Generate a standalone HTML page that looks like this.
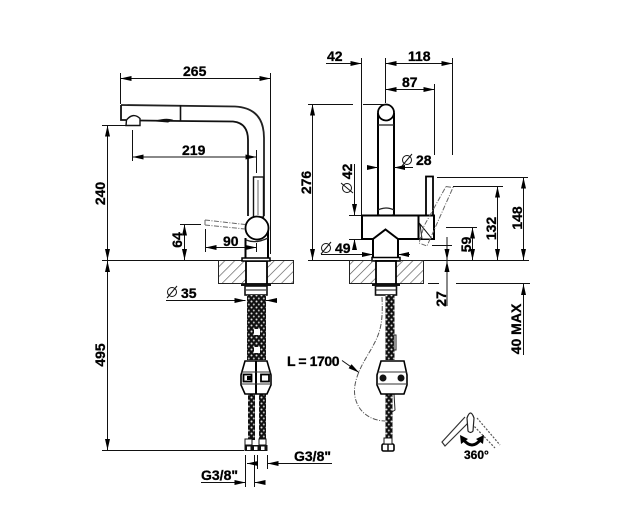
<!DOCTYPE html>
<html><head><meta charset="utf-8"><style>
html,body{margin:0;padding:0;background:#fff;width:637px;height:515px;overflow:hidden}
svg{display:block}
text{font-family:"Liberation Sans",sans-serif;font-weight:bold;font-size:14px;fill:#000;stroke:#000;stroke-width:.3}
.d{stroke:#111;stroke-width:1;fill:none}
.o{stroke:#000;stroke-width:2;fill:none}
.t{stroke:#222;stroke-width:1.3;fill:none}
.g{stroke:#555;stroke-width:1;fill:none;stroke-dasharray:5 1.5 1 1.5}
</style></head><body>
<svg width="637" height="515" viewBox="0 0 637 515" xmlns="http://www.w3.org/2000/svg">
<defs>
<marker id="a" viewBox="0 0 11 5" refX="11" refY="2.5" markerWidth="11" markerHeight="5" markerUnits="userSpaceOnUse" orient="auto-start-reverse"><path d="M0 0L11 2.5L0 5z" fill="#000"/></marker>
<pattern id="h" width="7" height="7" patternUnits="userSpaceOnUse" patternTransform="rotate(45)"><line x1="0" y1="0" x2="0" y2="7" stroke="#555" stroke-width="1.3"/></pattern>
<pattern id="b" width="5" height="6" patternUnits="userSpaceOnUse"><rect width="5" height="6" fill="#111"/><circle cx="1.5" cy="1.5" r="1" fill="#ddd"/><circle cx="3.8" cy="4.5" r="1" fill="#bbb"/></pattern>
</defs>

<!-- LEFT VIEW -->
<line class="d" x1="120.500" y1="73" x2="120.500" y2="104"/>
<line class="d" x1="270.500" y1="73" x2="270.500" y2="254"/>
<line class="d" x1="120.500" y1="78.500" x2="270.500" y2="78.500" marker-start="url(#a)" marker-end="url(#a)"/>
<text x="183" y="76">265</text>
<path d="M121 105L235 106.500Q264 108 264 138L264 216" fill="none" stroke="#222" stroke-width="1.800"/>
<path d="M121 105L121 120L126 120M140 120.500L180 121L233 121.500Q248 123 248 140L248 216" fill="none" stroke="#111" stroke-width="1.800"/>
<line x1="180.500" y1="105" x2="180.500" y2="121" stroke="#111" stroke-width="1.600"/>
<path d="M156 121Q166 118 172 120L168 122z" fill="#111" stroke="#111"/>
<path d="M126 125.500L126.500 120Q133 112 140 118.500L140 125.500z" fill="#fff" stroke="#111" stroke-width="1.400"/>
<line class="d" x1="102" y1="125.500" x2="126" y2="125.500"/>
<line class="d" x1="107.500" y1="125.500" x2="107.500" y2="260" marker-start="url(#a)" marker-end="url(#a)"/>
<text transform="translate(105,193.500) rotate(-90)" text-anchor="middle">240</text>
<line class="d" x1="132.500" y1="130" x2="132.500" y2="161"/>
<line class="d" x1="256.500" y1="150" x2="256.500" y2="173"/>
<line class="d" x1="132.500" y1="157" x2="256.500" y2="157" marker-start="url(#a)" marker-end="url(#a)"/>
<text x="182" y="155">219</text>
<rect x="253.500" y="177" width="10" height="40" fill="#fff" stroke="#111" stroke-width="1.400"/>
<line x1="258" y1="180" x2="258" y2="215" stroke="#666" stroke-width="1"/>
<path d="M245.500 259V238M268 259V226" class="o"/>
<path d="M246 240Q256 244 268 238" class="t"/>
<circle cx="257" cy="228" r="11.500" fill="#fff" stroke="#000" stroke-width="1.800"/>
<path d="M205 220L245 224.500M205 225L245 229M205 220V225" fill="none" stroke="#666" stroke-width="1" stroke-dasharray="5 1.500 1 1.500"/>
<line class="d" x1="180" y1="224.500" x2="201" y2="224.500"/>
<line class="d" x1="184.500" y1="224.500" x2="184.500" y2="260" marker-start="url(#a)" marker-end="url(#a)"/>
<text transform="translate(182,240) rotate(-90)" text-anchor="middle">64</text>
<line class="d" x1="205.500" y1="229" x2="205.500" y2="252"/>
<line class="d" x1="256.500" y1="243" x2="256.500" y2="252"/>
<line class="d" x1="205.500" y1="247.500" x2="256.500" y2="247.500" marker-start="url(#a)" marker-end="url(#a)"/>
<text x="223" y="246">90</text>
<line class="d" x1="102" y1="260.500" x2="245" y2="260.500"/>
<rect x="218.500" y="260.500" width="75" height="23" fill="url(#h)" stroke="#222" stroke-width="1"/>
<rect x="246" y="261" width="21" height="23" fill="#fff" stroke="#000" stroke-width="1.800"/>
<rect x="242" y="258" width="28" height="3" fill="#fff" stroke="#000" stroke-width="1.500"/>
<rect x="241" y="284" width="30" height="2" fill="#111"/>
<rect x="245" y="286" width="22" height="9" fill="#fff" stroke="#111" stroke-width="1.600"/>
<line x1="246" y1="290" x2="266" y2="290" stroke="#111"/>
<rect x="247" y="295" width="19" height="65" fill="url(#b)"/>
<rect x="254" y="329" width="6" height="6" fill="#fff"/>
<rect x="254" y="347" width="6" height="6" fill="#fff"/>
<rect x="248" y="394" width="7" height="46" fill="url(#b)"/>
<rect x="259" y="394" width="7" height="46" fill="url(#b)"/>
<rect x="245" y="439" width="7" height="6" fill="#fff" stroke="#111"/>
<rect x="259" y="439" width="7" height="6" fill="#fff" stroke="#111"/>
<rect x="244.500" y="445" width="23" height="6" fill="#111"/>
<rect x="247" y="446.500" width="3.500" height="3.500" fill="#fff"/>
<rect x="254" y="446.500" width="3.500" height="3.500" fill="#fff"/>
<rect x="261" y="446.500" width="3.500" height="3.500" fill="#fff"/>
<path d="M245 361L267 361L271 375L271 385L267 394L245 394L241 385L241 375z" fill="#fff" stroke="#000" stroke-width="1.600"/>
<line x1="256" y1="361" x2="256" y2="394" stroke="#000" stroke-width="2"/>
<line x1="241" y1="372" x2="271" y2="372" stroke="#333"/>
<line x1="241" y1="384" x2="271" y2="384" stroke="#333"/>
<rect x="243.500" y="374.500" width="8" height="7" fill="#fff" stroke="#000" stroke-width="1.800"/>
<rect x="261" y="374.500" width="8" height="7" fill="#fff" stroke="#000" stroke-width="1.800"/>
<rect x="247" y="376" width="4" height="4" fill="#000"/>
<line class="d" x1="166" y1="300.500" x2="245.500" y2="300.500" marker-end="url(#a)"/>
<line class="d" x1="276" y1="300.500" x2="266" y2="300.500" marker-end="url(#a)"/>
<circle cx="172" cy="292" r="4.500" class="d"/><line x1="167" y1="298" x2="177" y2="286" class="d"/>
<text x="181" y="298">35</text>
<line class="d" x1="107.500" y1="261" x2="107.500" y2="450" marker-start="url(#a)" marker-end="url(#a)"/>
<text transform="translate(105,355) rotate(-90)" text-anchor="middle">495</text>
<line class="d" x1="102" y1="450.500" x2="244" y2="450.500"/>
<line class="d" x1="245.500" y1="455" x2="245.500" y2="487"/>
<line class="d" x1="254.500" y1="455" x2="254.500" y2="487"/>
<line class="d" x1="257.500" y1="455" x2="257.500" y2="469"/>
<line class="d" x1="267.500" y1="455" x2="267.500" y2="469"/>
<line class="d" x1="247" y1="463.500" x2="257" y2="463.500" marker-start="url(#a)"/>
<line class="d" x1="267.500" y1="463.500" x2="332" y2="463.500" marker-start="url(#a)"/>
<text x="294" y="461">G3/8"</text>
<line class="d" x1="201" y1="482.500" x2="245.500" y2="482.500" marker-end="url(#a)"/>
<line class="d" x1="254.500" y1="482.500" x2="265" y2="482.500" marker-start="url(#a)"/>
<text x="201" y="480">G3/8"</text>

<!-- RIGHT VIEW -->
<line class="d" x1="361.500" y1="58" x2="361.500" y2="215"/>
<line class="d" x1="385.500" y1="58" x2="385.500" y2="103"/>
<line class="d" x1="452.500" y1="58" x2="452.500" y2="155"/>
<line class="d" x1="326" y1="63.500" x2="361.500" y2="63.500" marker-end="url(#a)"/>
<line class="d" x1="385.500" y1="63.500" x2="452.500" y2="63.500" marker-start="url(#a)" marker-end="url(#a)"/>
<text x="327" y="61">42</text>
<text x="408" y="61">118</text>
<line class="d" x1="434.500" y1="84" x2="434.500" y2="155"/>
<line class="d" x1="385.500" y1="89.500" x2="434.500" y2="89.500" marker-start="url(#a)" marker-end="url(#a)"/>
<text x="402" y="87">87</text>
<path d="M378 113V216M394 113V216" class="o"/>
<circle cx="386" cy="112.500" r="8" fill="#fff" stroke="#000" stroke-width="1.800"/>
<path d="M378 125H394" stroke="#222" stroke-width="1.300"/>
<path d="M378 210Q386 206 394 210M378 214Q386 222 394 214" class="t"/>
<line class="d" x1="308" y1="104.500" x2="353" y2="104.500"/>
<line class="d" x1="363" y1="104.500" x2="385" y2="104.500"/>
<line class="d" x1="312.500" y1="104.500" x2="312.500" y2="260" marker-start="url(#a)" marker-end="url(#a)"/>
<text transform="translate(311,182.500) rotate(-90)" text-anchor="middle">276</text>
<line class="d" x1="367" y1="167.500" x2="378" y2="167.500" marker-end="url(#a)"/>
<line class="d" x1="413" y1="167.500" x2="394" y2="167.500" marker-end="url(#a)"/>
<circle cx="407" cy="160" r="4.500" class="d"/><line x1="402" y1="166" x2="412" y2="154" class="d"/>
<text x="416" y="165">28</text>
<line class="d" x1="354.500" y1="164" x2="354.500" y2="215" marker-end="url(#a)"/>
<line class="d" x1="354.500" y1="250" x2="354.500" y2="239" marker-end="url(#a)"/>
<line class="d" x1="349" y1="215.500" x2="361" y2="215.500"/>
<line class="d" x1="349" y1="239.500" x2="361" y2="239.500"/>
<text transform="translate(352,171.500) rotate(-90)" text-anchor="middle">42</text>
<circle cx="347" cy="188" r="4.500" class="d"/><line x1="341" y1="183" x2="353" y2="193" class="d"/>
<path d="M373 258V239H362V215.500H418.500V239H398V258" fill="#fff" stroke="#000" stroke-width="2"/>
<path d="M373 239L385.500 229.500L398 239" class="o"/>
<rect x="372" y="257.500" width="28" height="3.500" fill="#fff" stroke="#000" stroke-width="1.500"/>
<rect x="426" y="176.500" width="7" height="39" fill="#fff" stroke="#000" stroke-width="1.800"/>
<path d="M418.500 215.500H434V239H418.500z" fill="#fff" stroke="#000" stroke-width="2"/>
<path d="M420 224L429 235L432 239H422z" fill="#fff" stroke="#111"/>
<path d="M446 186.500L453 187.500L435 228L427 246L419 243L424 226z" fill="none" stroke="#666" stroke-dasharray="5 1.500 1 1.500"/>
<circle cx="326" cy="248" r="4.500" class="d"/><line x1="321" y1="254" x2="331" y2="242" class="d"/>
<line class="d" x1="321" y1="254.500" x2="373" y2="254.500" marker-end="url(#a)"/>
<line class="d" x1="410" y1="254.500" x2="398" y2="254.500" marker-end="url(#a)"/>
<text x="335" y="253">49</text>
<line class="d" x1="308" y1="260.500" x2="529" y2="260.500"/>
<rect x="349.500" y="260.500" width="74" height="23" fill="url(#h)" stroke="#222" stroke-width="1"/>
<rect x="376" y="261" width="20" height="23" fill="#fff" stroke="#000" stroke-width="1.800"/>
<rect x="372" y="284" width="28" height="2" fill="#111"/>
<rect x="375.500" y="286" width="21" height="9" fill="#fff" stroke="#111" stroke-width="1.600"/>
<line x1="376" y1="290" x2="396" y2="290" stroke="#111"/>
<line class="d" x1="437" y1="177.500" x2="528" y2="177.500"/>
<line class="d" x1="523.500" y1="177.500" x2="523.500" y2="260" marker-start="url(#a)" marker-end="url(#a)"/>
<text transform="translate(522,218) rotate(-90)" text-anchor="middle">148</text>
<line class="d" x1="453" y1="186.500" x2="503" y2="186.500"/>
<line class="d" x1="497.500" y1="186.500" x2="497.500" y2="260" marker-start="url(#a)" marker-end="url(#a)"/>
<text transform="translate(496,228.500) rotate(-90)" text-anchor="middle">132</text>
<line class="d" x1="446" y1="227.500" x2="477" y2="227.500"/>
<line class="d" x1="472.500" y1="227.500" x2="472.500" y2="260" marker-start="url(#a)" marker-end="url(#a)"/>
<text transform="translate(471,244.500) rotate(-90)" text-anchor="middle">59</text>
<line class="d" x1="432" y1="245.500" x2="452" y2="245.500"/>
<line class="d" x1="447" y1="237" x2="447" y2="260" marker-end="url(#a)"/>
<line class="d" x1="447" y1="306" x2="447" y2="261" marker-end="url(#a)"/>
<text transform="translate(446,299) rotate(-90)" text-anchor="middle">27</text>
<line class="d" x1="428" y1="283.500" x2="439" y2="283.500"/>
<line class="d" x1="456" y1="283.500" x2="530" y2="283.500"/>
<line class="d" x1="523.500" y1="355" x2="523.500" y2="284" marker-end="url(#a)"/>
<text transform="translate(521,329) rotate(-90)" text-anchor="middle">40 MAX</text>
<rect x="385.500" y="295" width="9" height="65" fill="url(#b)"/>
<rect x="385.500" y="394" width="7" height="44" fill="url(#b)"/>
<path d="M394 335H396V350H394zM394 394L395 410L392 412" fill="none" stroke="#222"/>
<rect x="382" y="444" width="12" height="7" rx="1.500" fill="#fff" stroke="#000" stroke-width="1.600"/>
<line x1="388" y1="438" x2="388" y2="451" stroke="#111" stroke-width="1.500"/>
<rect x="384" y="438" width="8" height="6" fill="#fff" stroke="#111"/>
<path d="M381 361H404L407 375V385L404 394H381L377 385V375z" fill="#fff" stroke="#000" stroke-width="1.600"/>
<line x1="377" y1="372" x2="407" y2="372" stroke="#333"/>
<line x1="377" y1="384" x2="407" y2="384" stroke="#333"/>
<circle cx="383" cy="378" r="3.500" fill="#111"/>
<circle cx="401" cy="378" r="3.500" fill="#111"/>
<path d="M382 297C383 320 381 330 375 342C368 356 358 368 355 385C352 402 362 420 385 421" class="g"/>
<text x="287" y="366" style="letter-spacing:-.4px">L = 1700</text>
<line class="d" x1="342" y1="360.500" x2="359" y2="372.500" marker-end="url(#a)"/>
<path d="M465 417L442 442L445 446L470 421" fill="none" stroke="#333" stroke-width="1.200"/>
<path d="M477 418L500 445M472 424L495 448" fill="none" stroke="#555" stroke-width="1.200" stroke-dasharray="2 1.500"/>
<path d="M467 418Q470.500 408 474 418L473 431Q470.500 434 468 431z" fill="#fff" stroke="#222" stroke-width="1.200"/>
<path d="M463 439Q472 451 481 439" fill="none" stroke="#000" stroke-width="3"/>
<path d="M460 435L468 439L461 444zM484 435L476 439L483 444z" fill="#000"/>
<text x="464" y="459" style="font-size:12px">360°</text>
</svg>
</body></html>
